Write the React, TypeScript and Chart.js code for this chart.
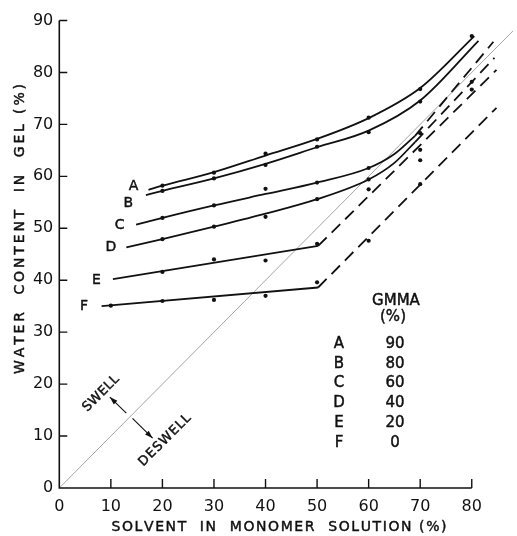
import React, { useEffect, useRef } from 'react';
import { Chart, registerables } from 'chart.js';
Chart.register(...registerables);

// ---------- data ----------
const xTicks = [0, 10, 20, 30, 40, 50, 60, 70, 80];
const yTicks = [0, 10, 20, 30, 40, 50, 60, 70, 80, 90];

const seriesNames = ['A', 'B', 'C', 'D', 'E', 'F'];
const gmmaPercent = ['90', '80', '60', '40', '20', '0'];

// fitted (solid) curves
const curveA_x = [17.3, 20, 30, 40, 50, 60, 70, 80.5];
const curveA_y = [57.4, 58.2, 60.8, 64.0, 67.2, 71.2, 77.0, 87.0];
const curveB_x = [16.8, 20, 30, 40, 50, 60, 70, 81.3];
const curveB_y = [56.4, 57.2, 59.6, 62.4, 65.6, 68.8, 74.6, 86.1];
const curveC_x = [14.9, 20, 30, 40, 50, 60, 65, 69];
const curveC_y = [50.7, 52.0, 54.4, 56.6, 58.8, 61.6, 64.3, 67.8];
const curveD_x = [13.0, 20, 30, 40, 50, 60, 65, 69];
const curveD_y = [46.3, 47.9, 50.3, 52.8, 55.6, 59.4, 62.6, 66.6];
const curveE_x = [10.4, 50.2];
const curveE_y = [40.2, 46.6];
const curveF_x = [8.2, 50.2];
const curveF_y = [35.0, 38.6];

// dashed extrapolations
const dashC_x = [69, 84.2];
const dashC_y = [67.8, 85.9];
const dashD_x = [69, 84.4];
const dashD_y = [66.6, 82.8];
const dashE_x = [50.2, 84.8];
const dashE_y = [46.6, 80.5];
const dashF_x = [50.2, 84.8];
const dashF_y = [38.6, 73.2];

// measured points
const ptsA_x = [20, 30, 40, 50, 60, 70, 80];
const ptsA_y = [58.2, 60.7, 64.4, 67.1, 71.3, 76.8, 87.0];
const ptsB_x = [20, 30, 40, 50, 60, 70];
const ptsB_y = [57.2, 59.6, 62.2, 65.7, 68.5, 74.4];
const ptsC_x = [20, 30, 40, 50, 60, 70];
const ptsC_y = [52.0, 54.4, 57.6, 58.8, 61.6, 68.3];
const ptsD_x = [20, 30, 40, 50, 60, 70, 80];
const ptsD_y = [47.9, 50.3, 52.2, 55.6, 59.4, 65.1, 78.2];
const ptsE_x = [20, 30, 40, 50, 60, 70, 80];
const ptsE_y = [41.6, 44.0, 43.8, 47.0, 57.5, 63.1, 76.7];
const ptsF_x = [10, 20, 30, 40, 50, 60, 70];
const ptsF_y = [35.1, 36.0, 36.2, 37.0, 39.6, 47.6, 58.5];

// swell / deswell boundary (water content = solvent)
const diag_x = [0, 88];
const diag_y = [0, 88];

// ---------- helpers ----------
const FONT = '"DejaVu Sans", sans-serif';
const INK = '#111111';
const zip = (xs: number[], ys: number[]) => xs.map((v, i) => ({ x: v, y: ys[i] }));

function heavyText(ctx: CanvasRenderingContext2D, s: string, x: number, y: number) {
  ctx.fillText(s, x, y);
  ctx.strokeText(s, x, y);
}

function spacedText(ctx: CanvasRenderingContext2D, text: string, cx: number, cy: number, width: number, angle: number) {
  ctx.save();
  ctx.translate(cx, cy);
  ctx.rotate(angle);
  const ws = [...text].map((ch) => ctx.measureText(ch).width);
  const sum = ws.reduce((a, b) => a + b, 0);
  const gap = text.length > 1 ? (width - sum) / (text.length - 1) : 0;
  let px = -width / 2;
  ctx.textAlign = 'left';
  ctx.textBaseline = 'middle';
  [...text].forEach((ch, i) => {
    heavyText(ctx, ch, px, 0);
    px += ws[i] + gap;
  });
  ctx.restore();
}

function arrow(ctx: CanvasRenderingContext2D, x1: number, y1: number, x2: number, y2: number) {
  const ang = Math.atan2(y2 - y1, x2 - x1);
  ctx.beginPath();
  ctx.moveTo(x1, y1);
  ctx.lineTo(x2, y2);
  ctx.stroke();
  const L = 8, W = 2.6;
  ctx.beginPath();
  ctx.moveTo(x2, y2);
  ctx.lineTo(x2 - L * Math.cos(ang) + W * Math.sin(ang), y2 - L * Math.sin(ang) - W * Math.cos(ang));
  ctx.lineTo(x2 - L * Math.cos(ang) - W * Math.sin(ang), y2 - L * Math.sin(ang) + W * Math.cos(ang));
  ctx.closePath();
  ctx.fill();
}

const decor = {
  id: 'decor',
  afterDraw(chart: any) {
    const { ctx, scales } = chart;
    const sx = scales.x, sy = scales.y;
    const X = (v: number) => sx.getPixelForValue(v);
    const Y = (v: number) => sy.getPixelForValue(v);
    ctx.save();
    ctx.strokeStyle = INK;
    ctx.fillStyle = INK;
    // axes
    ctx.lineWidth = 1.6;
    ctx.beginPath();
    ctx.moveTo(X(0), Y(90));
    ctx.lineTo(X(0), Y(0));
    ctx.lineTo(X(80), Y(0));
    ctx.stroke();
    ctx.lineWidth = 1.4;
    ctx.beginPath();
    yTicks.forEach((t) => {
      if (t === 0) return;
      ctx.moveTo(X(0), Y(t));
      ctx.lineTo(X(0) + 8, Y(t));
    });
    xTicks.forEach((t) => {
      if (t === 0) return;
      ctx.moveTo(X(t), Y(0));
      ctx.lineTo(X(t), Y(0) - 9);
    });
    ctx.stroke();

    ctx.lineWidth = 0.45;
    ctx.lineJoin = 'round';
    // axis titles
    ctx.font = `14px ${FONT}`;
    spacedText(ctx, 'SOLVENT  IN  MONOMER  SOLUTION (%)', 279, 527, 335, 0);
    spacedText(ctx, 'WATER  CONTENT  IN  GEL (%)', 20, 229, 290, -Math.PI / 2);

    // series labels at line starts
    const labelPos = [
      [14.4, 58.0], [13.4, 54.8], [11.7, 50.6], [10.0, 46.3], [7.2, 40.0], [4.8, 34.9],
    ];
    ctx.font = `14px ${FONT}`;
    ctx.textAlign = 'center';
    ctx.textBaseline = 'middle';
    seriesNames.forEach((n, i) => heavyText(ctx, n, X(labelPos[i][0]), Y(labelPos[i][1])));

    // legend table
    ctx.font = `15px ${FONT}`;
    heavyText(ctx, 'GMMA', 396, 301);
    heavyText(ctx, '(%)', 393, 317);
    seriesNames.forEach((n, i) => {
      const yy = 344 + i * 19.8;
      heavyText(ctx, n, 339, yy);
      heavyText(ctx, gmmaPercent[i], 395, yy);
    });

    // swell / deswell annotations
    ctx.font = `13px ${FONT}`;
    spacedText(ctx, 'SWELL', X(8.1), Y(18.2), 46, -Math.PI / 4);
    spacedText(ctx, 'DESWELL', X(20.5), Y(9.2), 68, -Math.PI / 4);
    ctx.lineWidth = 1.1;
    arrow(ctx, X(13.0), Y(14.4), X(9.8), Y(17.5));
    arrow(ctx, X(14.2), Y(13.4), X(18.1), Y(9.6));
    ctx.restore();
  },
};

export default function App() {
  const ref = useRef<HTMLCanvasElement | null>(null);
  useEffect(() => {
    if (!ref.current) return;
    const solid = (xs: number[], ys: number[]) => ({
      type: 'line' as const,
      data: zip(xs, ys),
      borderColor: INK,
      borderWidth: 1.8,
      pointRadius: 0,
      fill: false,
      cubicInterpolationMode: 'monotone' as const,
      order: 2,
    });
    const dashed = (xs: number[], ys: number[]) => ({
      type: 'line' as const,
      data: zip(xs, ys),
      borderColor: INK,
      borderWidth: 1.8,
      borderDash: [12, 7],
      pointRadius: 0,
      fill: false,
      order: 2,
    });
    const dots = (xs: number[], ys: number[]) => ({
      type: 'scatter' as const,
      data: zip(xs, ys),
      showLine: false,
      pointRadius: 2.1,
      pointBackgroundColor: INK,
      pointBorderWidth: 0,
      borderColor: INK,
      order: 1,
    });
    const chart = new Chart(ref.current, {
      type: 'line',
      data: {
        datasets: [
          {
            type: 'line',
            data: zip(diag_x, diag_y),
            borderColor: '#9a9a9a',
            borderWidth: 0.9,
            pointRadius: 0,
            fill: false,
            order: 10,
          },
          solid(curveA_x, curveA_y),
          solid(curveB_x, curveB_y),
          solid(curveC_x, curveC_y),
          solid(curveD_x, curveD_y),
          solid(curveE_x, curveE_y),
          solid(curveF_x, curveF_y),
          dashed(dashC_x, dashC_y),
          dashed(dashD_x, dashD_y),
          dashed(dashE_x, dashE_y),
          dashed(dashF_x, dashF_y),
          dots(ptsA_x, ptsA_y),
          dots(ptsB_x, ptsB_y),
          dots(ptsC_x, ptsC_y),
          dots(ptsD_x, ptsD_y),
          dots(ptsE_x, ptsE_y),
          dots(ptsF_x, ptsF_y),
        ] as any,
      },
      options: {
        animation: false,
        responsive: false,
        devicePixelRatio: 1,
        layout: { padding: { top: 20.5, right: 0, bottom: 0, left: 0 } },
        plugins: { legend: { display: false }, tooltip: { enabled: false } },
        scales: {
          x: {
            type: 'linear',
            min: 0,
            max: 88,
            grid: { display: false, drawTicks: false },
            border: { display: false },
            ticks: {
              stepSize: 10,
              includeBounds: false,
              color: INK,
              padding: 9,
              maxRotation: 0,
              font: { family: FONT, size: 16 },
            },
            afterFit: (s: any) => { s.height = 48; },
          },
          y: {
            type: 'linear',
            min: 0,
            max: 90,
            grid: { display: false, drawTicks: false },
            border: { display: false },
            ticks: {
              stepSize: 10,
              color: INK,
              padding: 6,
              font: { family: FONT, size: 16 },
            },
            afterFit: (s: any) => { s.width = 59.3; },
          },
        },
      },
      plugins: [decor],
    });
    return () => chart.destroy();
  }, []);
  return (
    <div style={{ position: 'fixed', left: 0, top: 0, width: 517, height: 536, background: '#fff' }}>
      <canvas ref={ref} width={517} height={536} style={{ display: 'block' }} />
    </div>
  );
}
